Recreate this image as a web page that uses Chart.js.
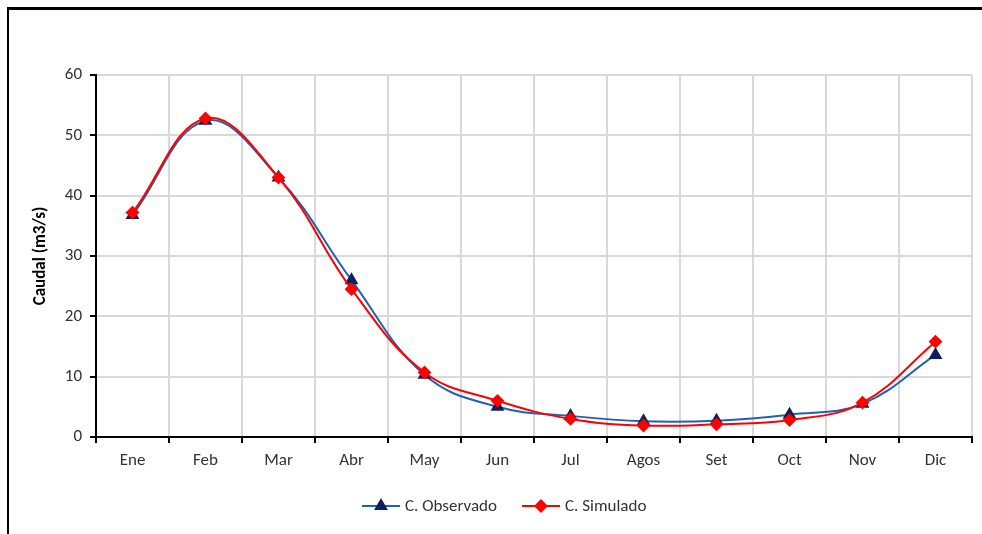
<!DOCTYPE html>
<html>
<head>
<meta charset="utf-8">
<script src="https://cdn.jsdelivr.net/npm/chart.js@4/dist/chart.umd.min.js"></script>
<style>
  html, body { margin: 0; padding: 0; background: #fff; }
  #wrap { position: relative; width: 982px; height: 534px; }
  #marco { position: absolute; left: 7px; top: 7px; right: 0; bottom: 0;
           border-left: 2px solid #000; border-top: 3px solid #000; }
  canvas { position: absolute; left: 0; top: 0; }
</style>
</head>
<body>
<div id="wrap">
  <div id="marco"></div>
  <canvas id="grafico" width="982" height="534"></canvas>
</div>
<script>
const meses = ["Ene", "Feb", "Mar", "Abr", "May", "Jun", "Jul", "Agos", "Set", "Oct", "Nov", "Dic"];
const caudalObservado = [36.8, 52.4, 43.0, 26.0, 10.3, 5.0, 3.5, 2.6, 2.7, 3.7, 5.5, 13.6];
const caudalSimulado = [37.2, 52.8, 43.0, 24.5, 10.7, 6.0, 3.0, 1.9, 2.1, 2.8, 5.7, 15.8];
const ticksY = [0, 10, 20, 30, 40, 50, 60];

const fuente = "'Carlito', 'Liberation Sans', sans-serif";

// leyenda con linea + marcador, dibujada a mano
const leyendaLinea = {
  id: "leyendaLinea",
  afterDraw(chart) {
    const ctx = chart.ctx;
    const y = 506;
    const items = [
      { ds: chart.data.datasets[0], x: 362 },
      { ds: chart.data.datasets[1], x: 522 }
    ];
    ctx.save();
    ctx.font = "17px " + fuente;
    ctx.textBaseline = "middle";
    items.forEach(it => {
      ctx.strokeStyle = it.ds.borderColor;
      ctx.lineWidth = 2;
      ctx.beginPath();
      ctx.moveTo(it.x, y);
      ctx.lineTo(it.x + 38, y);
      ctx.stroke();
      ctx.fillStyle = it.ds.pointBackgroundColor;
      ctx.strokeStyle = it.ds.pointBorderColor;
      Chart.helpers.drawPoint(ctx, {
        pointStyle: it.ds.pointStyle,
        radius: it.ds.pointRadius,
        borderWidth: 1
      }, it.x + 19, y);
      ctx.fillStyle = "#333";
      ctx.fillText(it.ds.label, it.x + 43, y + 1);
    });
    ctx.restore();
  }
};

new Chart(document.getElementById("grafico"), {
  type: "line",
  data: {
    labels: meses,
    datasets: [
      {
        label: "C. Observado",
        data: caudalObservado,
        borderColor: "#1f62b4",
        borderWidth: 2,
        pointStyle: "triangle",
        pointRadius: 6,
        pointBackgroundColor: "#0f1f5c",
        pointBorderColor: "#0f1f5c",
        tension: 0.4,
        order: 1
      },
      {
        label: "C. Simulado",
        data: caudalSimulado,
        borderColor: "#ff0000",
        borderWidth: 2,
        pointStyle: "rectRot",
        pointRadius: 5.5,
        pointBackgroundColor: "#ff0000",
        pointBorderColor: "#ff0000",
        tension: 0.4,
        order: 0
      }
    ]
  },
  options: {
    responsive: false,
    animation: false,
    layout: { padding: { left: 31, top: 75, right: 10, bottom: 0 } },
    plugins: {
      legend: { display: false },
      tooltip: { enabled: false }
    },
    scales: {
      x: {
        offset: true,
        grid: { offset: true, color: "#d9d9d9", lineWidth: 2, tickColor: "#000", tickLength: 6, tickWidth: 2 },
        border: { color: "#000", width: 2 },
        ticks: { color: "#333", font: { family: fuente, size: 17 }, padding: 8, maxRotation: 0 },
        afterFit(scale) { scale.height = 97; }
      },
      y: {
        min: 0,
        max: 60,
        afterBuildTicks(scale) { scale.ticks = ticksY.map(v => ({ value: v })); },
        grid: { color: "#d9d9d9", lineWidth: 2, tickColor: "#000", tickLength: 6, tickWidth: 2 },
        border: { color: "#000", width: 2 },
        ticks: { color: "#333", font: { family: fuente, size: 17 }, padding: 8 },
        title: {
          display: true,
          text: "Caudal (m3/s)",
          color: "#000",
          font: { family: fuente, size: 17, weight: "bold" },
          padding: { top: 0, bottom: 4 }
        },
        afterFit(scale) { scale.width = 65; }
      }
    }
  },
  plugins: [leyendaLinea]
});
</script>
</body>
</html>
